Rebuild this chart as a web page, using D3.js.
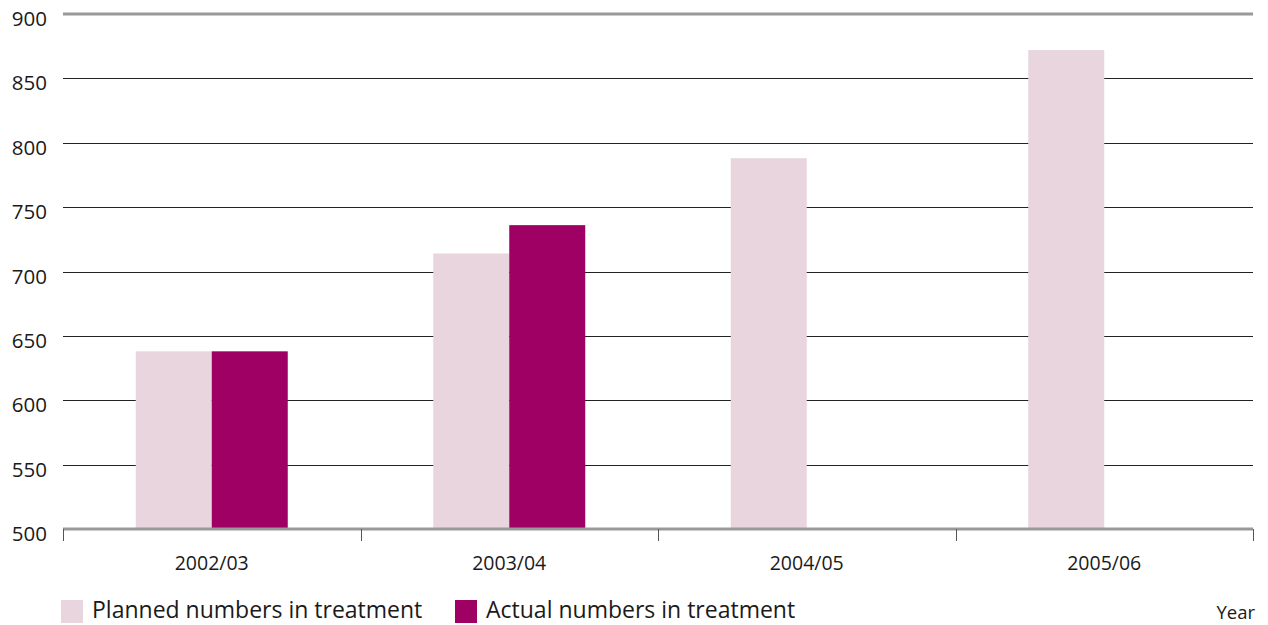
<!DOCTYPE html>
<html>
<head>
<meta charset="utf-8">
<script src="https://cdn.jsdelivr.net/npm/d3@7"></script>
<style>
  body { margin: 0; background: #fff; }
  svg { display: block; font-family: "Open Sans", "Noto Sans", sans-serif; }
</style>
</head>
<body>
<div id="chart"></div>
<script>
// data
const years = ["2002/03", "2003/04", "2004/05", "2005/06"];
const series = ["Planned numbers in treatment", "Actual numbers in treatment"];
const planned = [638, 714, 788, 872];
const actual = [638, 736, null, null];
const yTicks = [500, 550, 600, 650, 700, 750, 800, 850, 900];
const colors = ["#e8d5de", "#9e0063"];

let width = 1268, height = 625;
let margin = {top: 14, right: 15, bottom: 96, left: 63};

let svg = d3.select("#chart").append("svg")
    .attr("width", width)
    .attr("height", height);

//scales
let xScale = d3.scaleBand()
    .domain(years)
    .range([margin.left, width - margin.right])
    .padding(0);

let yScale = d3.scaleLinear()
    .domain([500, 900])
    .range([height - margin.bottom, margin.top]);

let barW = 76;
let xSub = d3.scaleBand()
    .domain(series)
    .range([-barW, barW]);

//gridlines
svg.append("g")
    .selectAll("line")
    .data(yTicks.filter(d => d > 500 && d < 900))
    .enter()
    .append("line")
    .attr("x1", margin.left)
    .attr("x2", width - margin.right)
    .attr("y1", d => Math.round(yScale(d)) + 0.5)
    .attr("y2", d => Math.round(yScale(d)) + 0.5)
    .attr("stroke", "#222")
    .attr("stroke-width", 1);

//top line
svg.append("line")
    .attr("x1", margin.left)
    .attr("x2", width - margin.right)
    .attr("y1", yScale(900))
    .attr("y2", yScale(900))
    .attr("stroke", "#999")
    .attr("stroke-width", 3);

//y labels
svg.append("g")
    .selectAll("text")
    .data(yTicks)
    .enter()
    .append("text")
    .attr("x", 47)
    .attr("y", d => yScale(d) + 12)
    .attr("text-anchor", "end")
    .attr("font-size", "20.5px")
    .attr("fill", "#1a1a1a")
    .text(d => d);

//bars
let rows = years.map((y, i) => ({year: y, values: [planned[i], actual[i]]}));

let groups = svg.append("g")
    .selectAll("g")
    .data(rows)
    .enter()
    .append("g")
    .attr("transform", d => `translate(${xScale(d.year) + xScale.bandwidth() / 2},0)`);

groups.selectAll("rect")
    .data(d => d.values.map((v, j) => ({key: series[j], value: v, color: colors[j]})).filter(d => d.value != null))
    .enter()
    .append("rect")
    .attr("x", d => xSub(d.key))
    .attr("width", xSub.bandwidth())
    .attr("y", d => yScale(d.value))
    .attr("height", d => yScale(500) - yScale(d.value))
    .attr("fill", d => d.color);

//x axis
let xAxis = svg.append("g")
    .attr("transform", `translate(0,${yScale(500)})`);

xAxis.append("line")
    .attr("x1", margin.left)
    .attr("x2", width - margin.right)
    .attr("stroke", "#999")
    .attr("stroke-width", 3);

let bounds = years.map(y => xScale(y)).concat([xScale.range()[1]]);
xAxis.selectAll(".tick")
    .data(bounds)
    .enter()
    .append("line")
    .attr("class", "tick")
    .attr("x1", d => Math.round(d) + 0.5)
    .attr("x2", d => Math.round(d) + 0.5)
    .attr("y1", 0)
    .attr("y2", 12)
    .attr("stroke", "#555")
    .attr("stroke-width", 1);

xAxis.selectAll(".xlabel")
    .data(years)
    .enter()
    .append("text")
    .attr("class", "xlabel")
    .attr("x", d => xScale(d) + xScale.bandwidth() / 2)
    .attr("y", 41)
    .attr("text-anchor", "middle")
    .attr("font-size", "19.5px")
    .attr("fill", "#1a1a1a")
    .text(d => d);

//legend
let legendX = [61, 455];
let legend = svg.append("g")
    .selectAll("g")
    .data(series)
    .enter()
    .append("g")
    .attr("transform", (d, i) => `translate(${legendX[i]},600)`);

legend.append("rect")
    .attr("width", 22)
    .attr("height", 23)
    .attr("fill", (d, i) => colors[i]);

legend.append("text")
    .attr("x", 31)
    .attr("y", 18)
    .attr("font-size", "23px")
    .attr("fill", "#1a1a1a")
    .text(d => d);

//year label
svg.append("text")
    .attr("x", width - margin.right + 2)
    .attr("y", 619)
    .attr("text-anchor", "end")
    .attr("font-size", "18.5px")
    .attr("fill", "#1a1a1a")
    .text("Year");
</script>
</body>
</html>
